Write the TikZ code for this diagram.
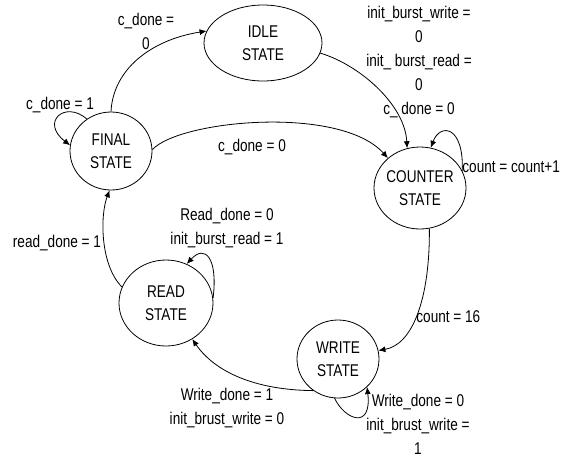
\documentclass[tikz,border=0pt]{standalone}
\usepackage{fontspec}
\setmainfont{Liberation Sans}[FakeStretch=0.8]
\usetikzlibrary{shapes.geometric,arrows.meta}

\newcommand\lblfont{\fontsize{17}{24}\selectfont}
\newcommand\stfont{\fontsize{17}{23}\selectfont}

\begin{document}
\begin{tikzpicture}[x=1pt,y=-1pt,line width=0.8pt,
  state/.style={draw,ellipse,inner sep=0pt},
  stlabel/.style={align=center,font=\stfont,inner sep=0pt},
  lbl/.style={align=center,inner sep=0pt,font=\lblfont},
  tr/.style={-{Latex[length=7pt,width=6pt]}}]
\useasboundingbox (0,0) rectangle (565,459);

% states
\node[state,minimum width=118,minimum height=76,
  label={[stlabel]center:IDLE\\STATE}] (idle) at (263,43) {};
\node[state,minimum width=82,minimum height=78,
  label={[stlabel]center:FINAL\\STATE}] (final) at (111,151) {};
\node[state,minimum width=92,minimum height=82,
  label={[stlabel]center:COUNTER\\STATE}] (counter) at (420,188) {};
\node[state,minimum width=94,minimum height=86,
  label={[stlabel]center:READ\\STATE}] (read) at (166,303) {};
\node[state,minimum width=82,minimum height=78,
  label={[stlabel]center:WRITE\\STATE}] (write) at (338,359) {};

% transitions
\draw[tr] (final.90) .. controls (113,70) and (150,40) .. (idle.168);
\draw[tr] (final.127) .. controls (65,100) and (40,122) .. (final.172);
\draw[tr] (final.2) .. controls (180,120) and (340,105) .. (counter.137);
\draw[tr] (idle.-10) .. controls (360,65) and (405,105) .. (counter.108);
\draw[tr] (counter.22) .. controls (464,125) and (440,123) .. (counter.75);
\draw[tr] (counter.-77) .. controls (430,300) and (412,345) .. (write.12);
\draw[tr] (write.232) .. controls (255,390) and (215,372) .. (read.306);
\draw[tr] (write.265) .. controls (345,420) and (372,430) .. (write.-44);
\draw[tr] (read.6) .. controls (218,258) and (205,244) .. (read.62);
\draw[tr] (read.160) .. controls (100,265) and (100,215) .. (final.268);

% conditions
\node[lbl] (l1) at (146,31) {c\_done =\\0};
\node[lbl] (l2) at (60,105) {c\_done = 1};
\node[lbl] (l3) at (252,147) {c\_done = 0};
\node[lbl] (l4) at (419,62) {init\_burst\_write =\\0\\init\_ burst\_read =\\0\\c\_ done = 0};
\node[lbl,anchor=west] (l5) at (462,167) {count = count+1};
\node[lbl,anchor=west] (l6) at (416,317) {count = 16};
\node[lbl] (l7) at (227,408) {Write\_done = 1\\init\_brust\_write = 0};
\node[lbl] (l8) at (57,243) {read\_done = 1};
\node[lbl] (l9) at (227,228) {Read\_done = 0\\init\_burst\_read = 1};
\node[lbl] (l10) at (418,424) {Write\_done = 0\\init\_brust\_write =\\1};
\end{tikzpicture}
\end{document}
